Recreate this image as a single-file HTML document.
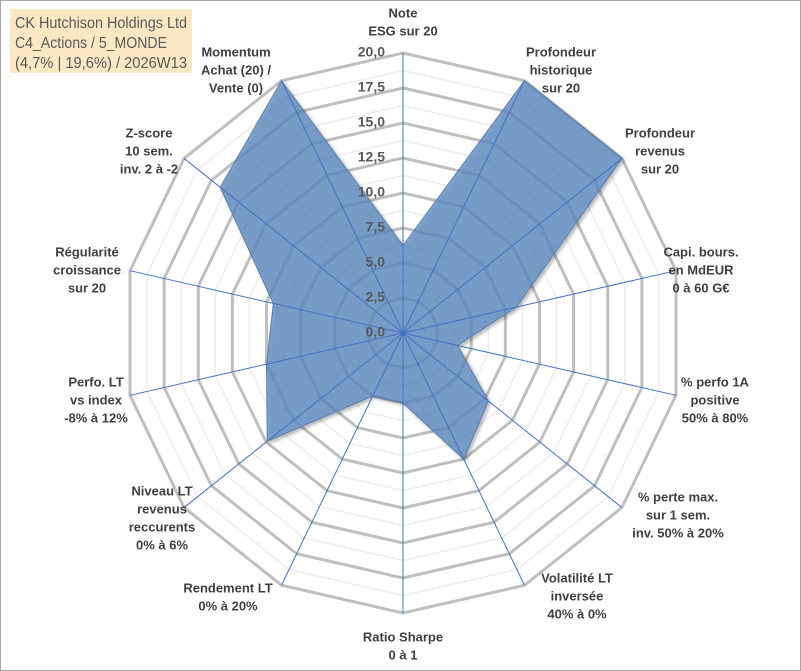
<!DOCTYPE html>
<html><head><meta charset="utf-8"><style>
body{margin:0;background:#fff}
svg{display:block;font-family:"Liberation Sans",sans-serif}
</style></head><body>
<svg id="c" width="801" height="671" viewBox="0 0 801 671">
<defs><filter id="sh" x="-10%" y="-10%" width="130%" height="130%"><feDropShadow dx="2" dy="2" stdDeviation="1.5" flood-color="#000" flood-opacity="0.35"/></filter></defs>
<rect x="0.5" y="0.5" width="800" height="670" fill="#fff" stroke="#a6a6a6"/>
<g id="grid"></g><g id="series"></g><g id="ticks"></g><g id="labels"></g>
<g>
<rect x="10" y="9" width="182" height="64" fill="#fce9c4"/>
<text x="15" y="28" font-size="16" fill="#595959" textLength="172" lengthAdjust="spacingAndGlyphs">CK Hutchison Holdings Ltd</text>
<text x="15" y="48" font-size="16" fill="#595959" textLength="152" lengthAdjust="spacingAndGlyphs">C4_Actions / 5_MONDE</text>
<text x="15" y="68" font-size="16" fill="#595959" textLength="172" lengthAdjust="spacingAndGlyphs">(4,7% | 19,6%) / 2026W13</text>
</g>
</svg>
<script>
const categories=["Note|ESG sur 20","Profondeur|historique|sur 20","Profondeur|revenus|sur 20","Capi. bours.|en MdEUR|0 à 60 G€","% perfo 1A|positive|50% à 80%","% perte max.|sur 1 sem.|inv. 50% à 20%","Volatilité LT|inversée|40% à 0%","Ratio Sharpe|0 à 1","Rendement LT|0% à 20%","Niveau LT|revenus|reccurents|0% à 6%","Perfo. LT|vs index|-8% à 12%","Régularité|croissance|sur 20","Z-score|10 sem.|inv. 2 à -2","Momentum|Achat (20) /|Vente (0)"];
const values=[6.25,20,20,8.3,4,7.8,10,5,5,12.4,10,9.5,16.7,20];
const tickLabels=["0,0","2,5","5,0","7,5","10,0","12,5","15,0","17,5","20,0"];
const maxVal=20;
const labelPos=[[403,23],[561,71],[660,152],[701,271],[715,401],[678,516],[577,597],[403,647],[228,598],[162,519],[96,401],[87,271],[149,152],[236,71]];
const cx=403,cy=333,R=280,N=categories.length;
const ns="http://www.w3.org/2000/svg";
function rad(v){return v/maxVal*R;}
function pt(i,v){const a=i*2*Math.PI/N;return [cx+rad(v)*Math.sin(a),cy-rad(v)*Math.cos(a)];}
function mk(t,attrs,parent){const e=document.createElementNS(ns,t);for(const k in attrs)e.setAttribute(k,attrs[k]);parent.appendChild(e);return e;}
const grid=document.getElementById('grid');
for(let k=1;k<=16;k++){const v=k*1.25;const major=k%2===0;
 const p=[];for(let i=0;i<N;i++)p.push(pt(i,v).join(','));
 const e=mk('polygon',{points:p.join(' '),fill:'none',stroke:major?'#bfbfbf':'#ececec','stroke-width':major?3:1.5},grid);
 
 }
const ser=document.getElementById('series');
const sp=values.map((v,i)=>pt(i,v).join(',')).join(' ');
const poly=mk('polygon',{points:sp,fill:'#5c89c2','fill-opacity':0.75,stroke:'#5b7fae','stroke-width':1,filter:'url(#sh)'},ser);


for(let i=0;i<N;i++){const [x,y]=pt(i,maxVal);
 const e=mk('line',{x1:cx,y1:cy,x2:x,y2:y,stroke:'#4472c4','stroke-width':1},ser);
 
 }
const tk=document.getElementById('ticks');
tickLabels.forEach((t,k)=>{const e=mk('text',{x:cx-18,y:cy-rad(k*2.5),'text-anchor':'end','dominant-baseline':'middle','font-size':14,'font-weight':'bold',fill:'#595959'},tk);e.textContent=t;
 
 });
const lb=document.getElementById('labels');
categories.forEach((c,i)=>{const lines=c.split('|');const [x,y]=labelPos[i];
 const g=mk('g',{},lb);
 
 
 lines.forEach((l,j)=>{const t=mk('text',{x:x,y:y+(j-(lines.length-1)/2)*18,'text-anchor':'middle','dominant-baseline':'middle','font-size':13,'font-weight':'bold',fill:'#404040'},g);t.textContent=l;});});
</script>
</body></html>
